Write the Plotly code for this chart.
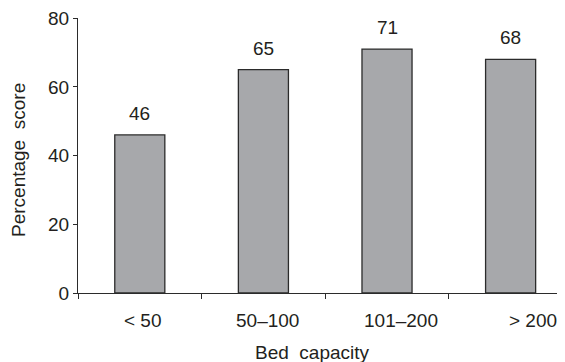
import plotly.graph_objects as go

categories = ["< 50", "50–100", "101–200", "> 200"]
scores = [46, 65, 71, 68]
y_ticks = [0, 20, 40, 60, 80]

label_xshift = [3, 4, 14, 22]

FONT = "Liberation Sans, Arial, Helvetica, sans-serif"
TXT = "#231f20"
FS = 19

OFF = 8  # page body margin
W, H = 565 - OFF, 362 - OFF
L, R, T = 78 - OFF, 0, 18 - OFF
B = H - (293 - OFF)
PW, PH = W - L - R, H - T - B

fig = go.Figure()
fig.add_trace(go.Bar(
    x=categories, y=scores, width=0.405,
    marker=dict(color="#a7a8ab", line=dict(color="#2b2b2b", width=1.3)),
    hoverinfo="skip",
))

for c, v in zip(categories, scores):
    fig.add_annotation(x=c, y=v, xref="x", yref="y", text=str(v), showarrow=False,
                       yanchor="bottom", yshift=9, font=dict(size=FS, color=TXT, family=FONT))

for c, dx in zip(categories, label_xshift):
    fig.add_annotation(x=c, y=0, xref="x", yref="y", text=c, showarrow=False,
                       yanchor="middle", yshift=-27, xshift=dx,
                       font=dict(size=FS, color=TXT, family=FONT))

fig.add_annotation(x=(312 - 78) / PW, y=-(352 - 293) / PH, xref="paper", yref="paper",
                   text="Bed  capacity", showarrow=False, xanchor="center", yanchor="middle",
                   font=dict(size=FS, color=TXT, family=FONT))
fig.add_annotation(x=-(78 - 18) / PW, y=(293 - 160) / PH, xref="paper", yref="paper",
                   text="Percentage  score", showarrow=False, xanchor="center", yanchor="middle",
                   textangle=-90, font=dict(size=FS, color=TXT, family=FONT))

fig.update_layout(
    width=W, height=H,
    margin=dict(l=L, r=R, t=T, b=B, autoexpand=False),
    paper_bgcolor="white", plot_bgcolor="white",
    showlegend=False,
    font=dict(family=FONT, size=FS, color=TXT),
)
fig.update_xaxes(
    range=[-0.5, 3.44], showline=True, linecolor="#2b2b2b", linewidth=1.3,
    ticks="outside", tickson="boundaries", ticklen=5, tickcolor="#2b2b2b", tickwidth=1.3,
    showticklabels=False, showgrid=False, zeroline=False, automargin=False,
)
fig.update_yaxes(
    range=[0, 80.05], tickvals=y_ticks, showline=True, linecolor="#2b2b2b", linewidth=1.3,
    ticks="outside", ticklen=4, tickcolor="#2b2b2b", tickwidth=1.3,
    tickfont=dict(size=FS, color=TXT, family=FONT), ticklabeloverflow="allow",
    showgrid=False, zeroline=False, automargin=False,
)

fig.write_html("out.html")
